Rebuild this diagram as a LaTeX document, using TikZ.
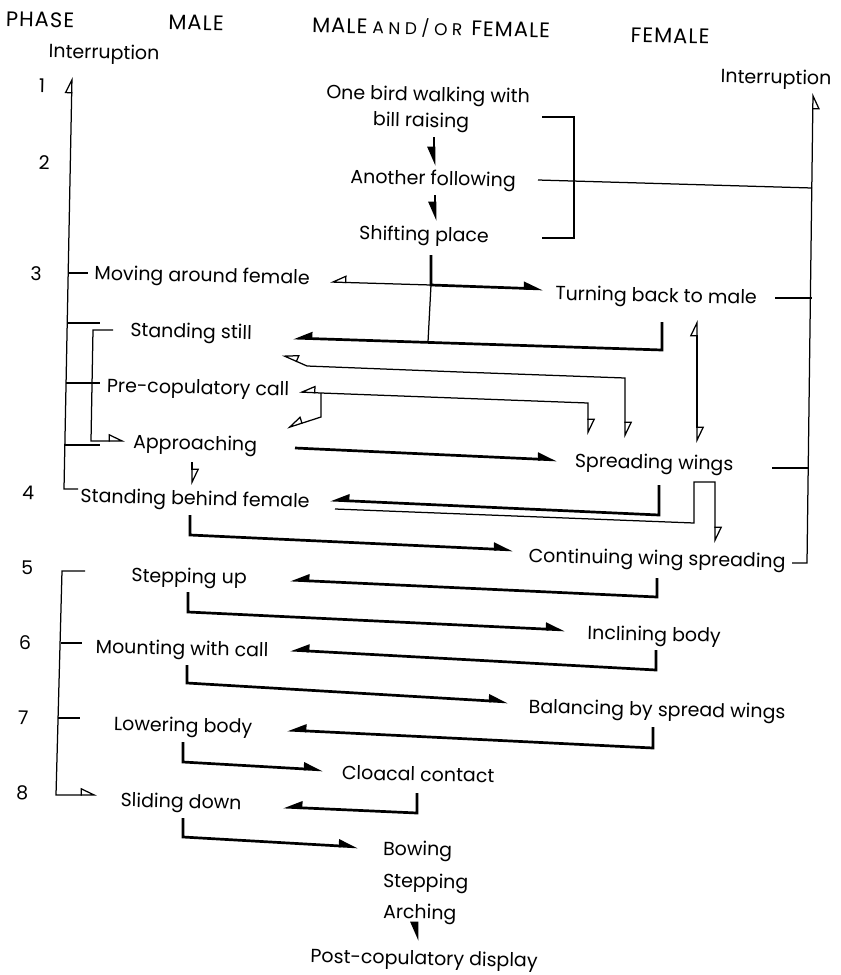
\documentclass[tikz,border=0pt]{standalone}
\usepackage{fontspec}
\setmainfont{Poppins}
\newfontfamily\hdrfamily[LetterSpace=5]{Poppins}
\usetikzlibrary{arrows.meta}
\newcommand\bodyfont{\fontsize{19}{23}\selectfont}
\newcommand\hdrfont{\hdrfamily\fontsize{21}{24}\selectfont}
\tikzset{
  lbl/.style={inner sep=0pt, outer sep=0pt, anchor=base, rotate=-1.2, font=\bodyfont},
  hdr/.style={lbl, font=\hdrfont},
  lblw/.style={lbl, anchor=base west},
  thn/.style={line width=1.25pt},
  tk/.style={line width=2.7pt, -{Triangle[harpoon, length=16pt, width=13pt]}},
  tks/.style={line width=2.7pt, -{Triangle[harpoon, swap, length=16pt, width=13pt]}},
  op/.style={thn, -{Triangle[open, harpoon, length=15pt, width=14pt]}},
  ops/.style={thn, -{Triangle[open, harpoon, swap, length=15pt, width=14pt]}},
}
\begin{document}
\begin{tikzpicture}[x=1pt,y=-1pt]
\useasboundingbox (0,0) rectangle (841,975);
% ---------------- headers
\node[hdr] (hphase) at (40,27) {PHASE};
\node[hdr] (hmale) at (196,30) {MALE};
\node[hdr] (hboth) at (431,35) {MALE\hspace{5pt}{\fontsize{17}{17}\selectfont\makebox[90pt][s]{A\hfil N\hfil D\hfil /\hfil O\hfil R}}\hspace{9pt}FEMALE};
\node[hdr] (hfem) at (670,43) {FEMALE};
\node[lbl] (intl) at (104,59) {Interruption};
\node[lbl] (intr) at (776,84) {Interruption};
% ---------------- phase numbers
\node[lbl] (p1) at (42,93) {1};
\node[lbl] (p2) at (44,170) {2};
\node[lbl] (p3) at (36,281) {3};
\node[lbl] (p4) at (28,500) {4};
\node[lbl] (p5) at (27,575) {5};
\node[lbl] (p6) at (25,650) {6};
\node[lbl] (p7) at (23,725) {7};
\node[lbl] (p8) at (22,800) {8};
% ---------------- behaviour labels
\node[lbl] (walk1) at (428,101) {One bird walking with};
\node[lbl] (walk2) at (421,127) {bill raising};
\node[lbl] (follow) at (433,185) {Another following};
\node[lbl] (shift) at (424,241) {Shifting place};
\node[lbl] (moving) at (202,282) {Moving around female};
\node[lbl] (turning) at (656,302) {Turning back to male};
\node[lbl] (still) at (191,338) {Standing still};
\node[lbl] (precop) at (198,394) {Pre-copulatory call};
\node[lbl] (approach) at (195,450) {Approaching};
\node[lbl] (spread) at (654,469) {Spreading wings};
\node[lbl] (behind) at (195,505) {Standing behind female};
\node[lbl] (cont) at (657,565) {Continuing wing spreading};
\node[lbl] (stepup) at (189,583) {Stepping up};
\node[lbl] (incline) at (654,641) {Inclining body};
\node[lbl] (mount) at (182,655) {Mounting with call};
\node[lbl] (balance) at (657,716) {Balancing by spread wings};
\node[lbl] (lower) at (183,732) {Lowering body};
\node[lbl] (cloacal) at (418,781) {Cloacal contact};
\node[lbl] (slide) at (181,808) {Sliding down};
\node[lblw] (bow) at (383,855) {Bowing};
\node[lblw] (stepping) at (383,887) {Stepping};
\node[lblw] (arch) at (383,918) {Arching};
\node[lbl] (post) at (424,965) {Post-copulatory display};
% ---------------- named end points
\coordinate (walkS) at (434,137);   \coordinate (followN) at (434,166);
\coordinate (followS) at (435,195); \coordinate (shiftN) at (435,221);
\coordinate (shiftS) at (431,255);  \coordinate (jct) at (431,285);
\coordinate (turningW) at (543,289);
\coordinate (movingE) at (330,282);
\coordinate (turningS) at (662,322); \coordinate (stillE) at (293,338);
\coordinate (jct2) at (428,342);
\coordinate (approachE) at (295,448); \coordinate (spreadW) at (557,460);
\coordinate (spreadS) at (659,485); \coordinate (behindE) at (330,500);
\coordinate (behindS) at (190,515); \coordinate (contW) at (513,550);
\coordinate (contS) at (657,578); \coordinate (stepupE) at (290,580);
\coordinate (stepupS) at (188,592); \coordinate (inclineW) at (565,630);
\coordinate (inclineS) at (656,650); \coordinate (mountE) at (290,650);
\coordinate (mountS) at (187,665); \coordinate (balanceW) at (508,702);
\coordinate (balanceS) at (653,727); \coordinate (lowerE) at (287,730);
\coordinate (lowerS) at (183,742); \coordinate (cloacalW) at (323,770);
\coordinate (cloacalS) at (417,793); \coordinate (slideE) at (283,807);
\coordinate (slideS) at (183,818); \coordinate (bowW) at (358,847);
\coordinate (archS) at (417,923); \coordinate (postN) at (417,941);
% ---------------- thick (filled) connectors
\draw[tks] (walkS) -- (followN);
\draw[tks] (followS) -- (shiftN);
\draw[tk] (shiftS) -- (jct) -- (turningW);
\draw[tks] (turningS) -- (662,350) -- (stillE);
\draw[tk] (approachE) -- (spreadW);
\draw[tks] (spreadS) -- (659,515) -- (behindE);
\draw[tk] (behindS) -- (190,535) -- (contW);
\draw[tks] (contS) -- (657,597) -- (stepupE);
\draw[tk] (stepupS) -- (188,612) -- (inclineW);
\draw[tks] (inclineS) -- (656,670) -- (mountE);
\draw[tk] (mountS) -- (187,683) -- (balanceW);
\draw[tks] (balanceS) -- (653,748) -- (lowerE);
\draw[tk] (lowerS) -- (183,762) -- (cloacalW);
\draw[tks] (cloacalS) -- (417,813) -- (slideE);
\draw[tk] (slideS) -- (183,837) -- (bowW);
\draw[tks] (archS) -- (postN);
% ---------------- thin connectors
\draw[ops] (jct) -- (movingE);
\draw[thn] (jct) -- (jct2);
% left interruption line
\coordinate (intlS) at (72,77);
\draw[op] (78,489) -- (64,489) -- (intlS);
\draw[thn] (68,273) -- (88,273);
\draw[thn] (67,323) -- (100,323);
\draw[thn] (66,383) -- (100,383);
\draw[thn] (65,445) -- (100,445);
% inner bracket
\coordinate (stillW) at (113,330); \coordinate (approachW) at (125,441);
\draw[op] (stillW) -- (93,330) -- (91,441) -- (approachW);
% bracket of the first three items
\draw[thn] (542,117) -- (574,117) -- (574,238) -- (542,238);
\draw[thn] (538,180) -- (812,188);
% right interruption line
\coordinate (intrS) at (813,93);
\draw[ops] (792,563) -- (807,563) -- (intrS);
\draw[thn] (775,298) -- (812,298);
\draw[thn] (772,468) -- (808,468);
% standing still <-> spreading wings
\coordinate (stillSE) at (282,355); \coordinate (spreadN1) at (625,438);
\coordinate (m1) at (460,372);
\draw[op] (m1) -- (625,378) -- (spreadN1);
\draw[ops] (m1) -- (307,366) -- (stillSE);
% pre-copulatory call <-> spreading wings
\coordinate (fork) at (321,393);
\coordinate (precopE) at (299,392); \coordinate (spreadN2) at (588,435);
\coordinate (approachNE) at (287,428);
\draw[op] (fork) -- (588,403) -- (spreadN2);
\draw[ops] (fork) -- (precopE);
\draw[ops] (fork) -- (321,417) -- (approachNE);
% turning back <-> spreading wings
\coordinate (m2) at (697,380);
\coordinate (turningSE) at (697,320); \coordinate (spreadN3) at (697,443);
\draw[op] (m2) -- (turningSE);
\draw[op] (m2) -- (spreadN3);
% approaching -> standing behind
\coordinate (approachS) at (192,462); \coordinate (behindN) at (192,485);
\draw[op] (approachS) -- (behindN);
% standing behind -> continuing wing spreading
\coordinate (behindE2) at (335,509); \coordinate (contN) at (715,543);
\draw[op] (behindE2) -- (694,523) -- (694,482) -- (715,482) -- (contN);
% phases 5-8 bracket
\coordinate (stepupW) at (85,571); \coordinate (slideW) at (97,795);
\draw[op] (stepupW) -- (62,571) -- (56,795) -- (slideW);
\draw[thn] (61,643) -- (82,643);
\draw[thn] (58,718) -- (80,718);
\end{tikzpicture}
\end{document}
